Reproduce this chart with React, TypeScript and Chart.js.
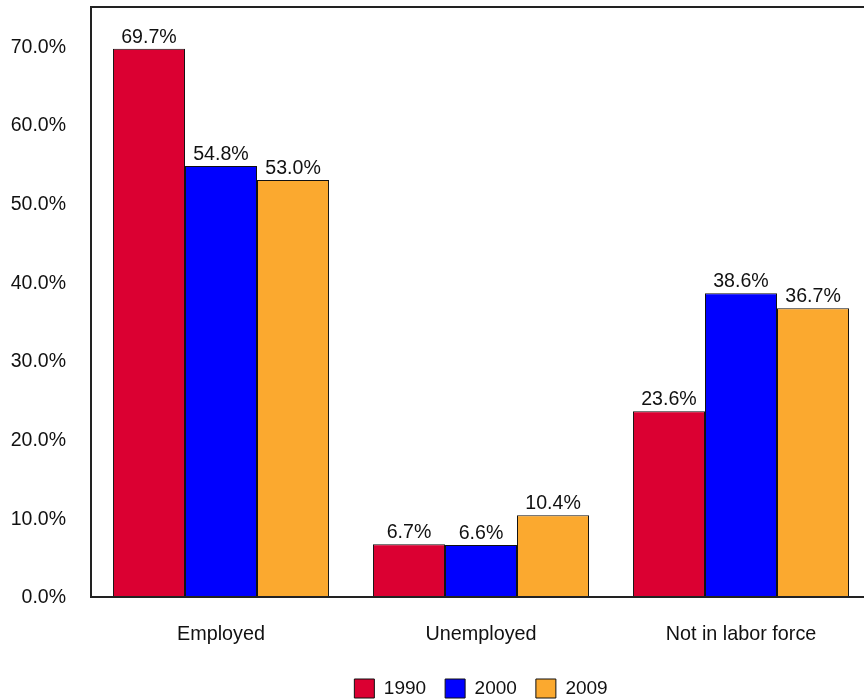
import React, { useEffect, useRef } from "react";
import { Chart, registerables } from "chart.js";

Chart.register(...registerables);

const categories = ["Employed", "Unemployed", "Not in labor force"];
const seriesNames = ["1990", "2000", "2009"];
const values1990 = [69.7, 6.7, 23.6];
const values2000 = [54.8, 6.6, 38.6];
const values2009 = [53.0, 10.4, 36.7];
const yTicks = [0, 10, 20, 30, 40, 50, 60, 70];
const colors = ["#DB0032", "#0000FF", "#FBA92F"];

const FONT = "'Liberation Sans', Arial, sans-serif";

const framePlugin = {
  id: "frame",
  afterLayout(chart: any) {
    const lg = chart.legend;
    if (lg) {
      lg.top += 8;
      lg.bottom += 8;
    }
  },
  afterDatasetsDraw(chart: any) {
    const { ctx, chartArea } = chart;
    ctx.save();
    ctx.strokeStyle = "#222";
    ctx.lineWidth = 2;
    ctx.beginPath();
    ctx.moveTo(chartArea.right + 2, chartArea.top);
    ctx.lineTo(chartArea.left, chartArea.top);
    ctx.lineTo(chartArea.left, chartArea.bottom);
    ctx.lineTo(chartArea.right + 2, chartArea.bottom);
    ctx.stroke();
    ctx.restore();
  },
};

const valueLabelPlugin = {
  id: "valueLabels",
  afterDatasetsDraw(chart: any) {
    const { ctx } = chart;
    ctx.save();
    ctx.font = `19.6px ${FONT}`;
    ctx.fillStyle = "#111";
    ctx.textAlign = "center";
    ctx.textBaseline = "alphabetic";
    chart.data.datasets.forEach((ds: any, i: number) => {
      const meta = chart.getDatasetMeta(i);
      meta.data.forEach((bar: any, j: number) => {
        const v = ds.data[j];
        ctx.fillText(v.toFixed(1) + "%", bar.x, bar.y - 6);
      });
    });
    ctx.restore();
  },
};

export default function App() {
  const ref = useRef<HTMLCanvasElement>(null);
  useEffect(() => {
    document.body.style.margin = "0";
    const chart = new Chart(ref.current as HTMLCanvasElement, {
      type: "bar",
      data: {
        labels: categories,
        datasets: [values1990, values2000, values2009].map((d, i) => ({
          label: seriesNames[i],
          data: d,
          backgroundColor: colors[i],
          borderColor: "#111",
          borderWidth: 1,
          categoryPercentage: 0.831,
          barPercentage: 1,
        })),
      },
      options: {
        animation: false,
        responsive: false,
        maintainAspectRatio: false,
        layout: { padding: { top: 7, left: 0, right: 1, bottom: 0 } },
        scales: {
          x: {
            grid: { display: false, drawTicks: false },
            border: { display: false },
            ticks: { color: "#111", font: { size: 19.8, family: FONT }, padding: 26 },
            afterFit(scale: any) {
              scale.height = 55;
            },
          },
          y: {
            min: 0,
            max: 75,
            grid: { display: false, drawTicks: false },
            border: { display: false },
            ticks: {
              stepSize: 10,
              color: "#111",
              padding: 25,
              labelOffset: 1,
              font: { size: 19.5, family: FONT },
              callback: (v: any) => Number(v).toFixed(1) + "%",
            },
            afterBuildTicks(scale: any) {
              scale.ticks = yTicks.map((v) => ({ value: v }));
            },
            afterFit(scale: any) {
              scale.width = 91;
              scale.paddingTop = 0;
              scale.paddingBottom = 0;
            },
          },
        },
        plugins: {
          legend: {
            position: "bottom",
            fullSize: false,
            labels: {
              boxWidth: 20,
              boxHeight: 19,
              padding: 19,
              color: "#111",
              font: { size: 19, family: FONT },
            },
          },
          tooltip: { enabled: false },
        },
      },
      plugins: [framePlugin, valueLabelPlugin],
    } as any);
    return () => chart.destroy();
  }, []);
  return (
    <div style={{ width: 864, height: 700, overflow: "hidden", background: "#fff" }}>
      <canvas ref={ref} width={872} height={700} style={{ display: "block" }} />
    </div>
  );
}
